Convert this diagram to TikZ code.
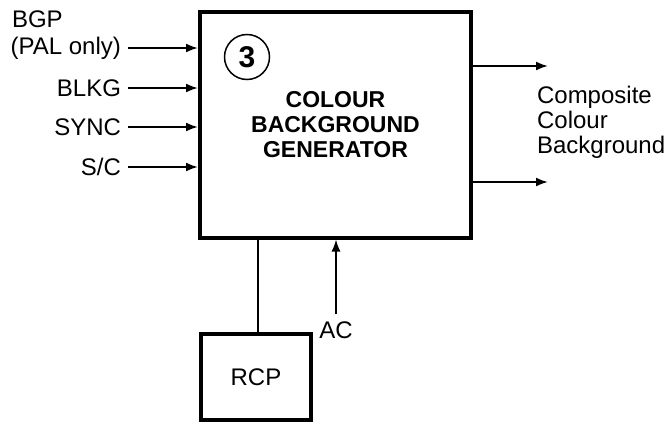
\documentclass[tikz,border=0pt]{standalone}
\usepackage{fontspec}
\setmainfont{Liberation Sans}
\usetikzlibrary{arrows.meta}
\tikzset{
    block/.style={rectangle,draw,line width=2pt,minimum width=135.5pt,minimum height=112.75pt,align=center,font=\bfseries\fontsize{11.5}{12.5}\selectfont},
    smallblock/.style={rectangle,draw,line width=2pt,minimum width=55pt,minimum height=43pt,font=\fontsize{12}{12.5}\selectfont},
    badge/.style={circle,draw,line width=0.75pt,minimum size=22.5pt,inner sep=0pt,font=\bfseries\fontsize{15}{15}\selectfont},
    signame/.style={font=\fontsize{12}{12.5}\selectfont},
    edge/.style={-{Latex[length=6pt,width=4.5pt]},line width=1pt},
    thinedge/.style={line width=0.75pt}
}
\begin{document}
\begin{tikzpicture}[x=0.5pt,y=-0.5pt]
\useasboundingbox (0,0) rectangle (667,423);
% blocks
\node[block] (gen) at (335.5,124.75) {COLOUR\\BACKGROUND\\GENERATOR};
\node[badge] (num) at (247,57) {3};
\node[smallblock] (rcp) at (256,377) {RCP};
% inputs
\node[signame,anchor=east] (pal) at (128,48) {(PAL only)};
\node[signame,anchor=south west,inner sep=0pt] (bgp) at ([xshift=4pt,yshift=1pt]pal.north west) {BGP};
\node[signame,anchor=east] (blkg) at (128,88) {BLKG};
\node[signame,anchor=east] (sync) at (128,127) {SYNC};
\node[signame,anchor=east] (sc) at (128,167) {S/C};
\node[signame] (ac) at (336,330) {AC};
% outputs
\node[signame,anchor=west,align=left] (comp) at (530,122) {Composite\\Colour\\Background};
\coordinate (out1) at (548,66);
\coordinate (out2) at (548,182);
%edges
\draw[edge] (pal.east) -- (pal.east -| gen.west);
\draw[edge] (blkg.east) -- (blkg.east -| gen.west);
\draw[edge] (sync.east) -- (sync.east -| gen.west);
\draw[edge] (sc.east) -- (sc.east -| gen.west);
\draw[edge] (gen.east |- out1) -- (out1);
\draw[edge] (gen.east |- out2) -- (out2);
\draw[edge,line width=0.75pt] (ac.north) -- (ac.north |- gen.south);
\draw[thinedge] ([xshift=1pt]rcp.north) -- ([xshift=1pt]rcp.north |- gen.south);
\end{tikzpicture}
\end{document}
